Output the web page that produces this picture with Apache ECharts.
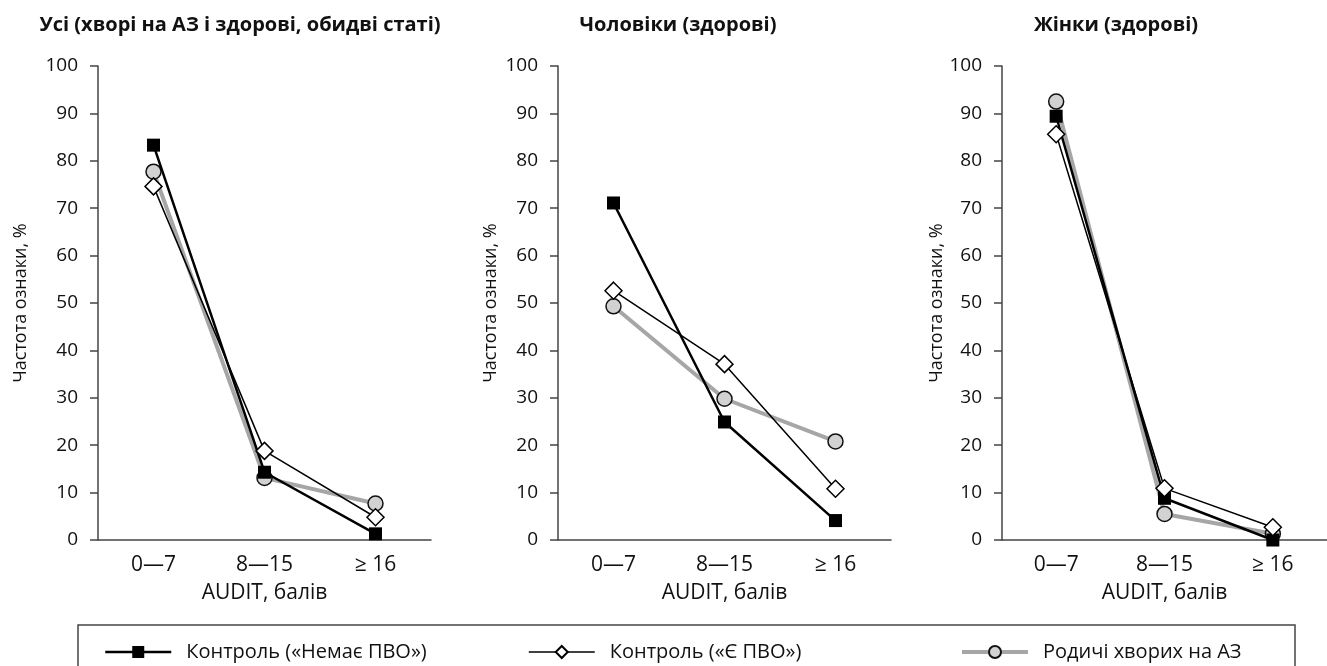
<!DOCTYPE html>
<html>
<head>
<meta charset="utf-8">
<script src="https://cdn.jsdelivr.net/npm/echarts@6/dist/echarts.min.js"></script>
<style>
  html, body { margin: 0; padding: 0; background: #fff; }
  #chart { width: 1327px; height: 666px; }
</style>
</head>
<body>
<div id="chart"></div>
<script>
const categories = ['0—7', '8—15', '≥ 16'];
const panelTitles = ['Усі (хворі на АЗ і здорові, обидві статі)', 'Чоловіки (здорові)', 'Жінки (здорові)'];
const seriesNames = ['Контроль («Немає ПВО»)', 'Контроль («Є ПВО»)', 'Родичі хворих на АЗ'];

// values per panel: [all, men, women]
const noPvo = [[83.3, 14.3, 1.3], [71.1, 24.9, 4.1], [89.4, 8.8, 0]];
const yesPvo = [[74.6, 18.8, 4.8], [52.6, 37.1, 10.8], [85.6, 10.9, 2.7]];
const relatives = [[77.7, 13.1, 7.7], [49.3, 29.8, 20.8], [92.5, 5.5, 1.3]];

const gridLefts = [98, 558, 1002];
const yNameGaps = [68, 58, 54];
const titleCenters = [235, 673, 1111];

const font = 'Open Sans';
const axisColor = '#444';

const grids = [], xAxes = [], yAxes = [], series = [], titles = [];

gridLefts.forEach((left, i) => {
  grids.push({ left: left, top: 66, width: 333, height: 474 });
  titles.push({
    text: panelTitles[i],
    left: titleCenters[i], top: 10, textAlign: 'center',
    textStyle: { fontFamily: font, fontSize: 20, fontWeight: 'bold', color: '#111' }
  });
  xAxes.push({
    type: 'category', gridIndex: i, data: categories, boundaryGap: true,
    name: 'AUDIT, балів', nameLocation: 'middle', nameGap: 43,
    nameTextStyle: { fontFamily: font, fontSize: 21, color: '#111' },
    axisLine: { lineStyle: { color: axisColor, width: 1.5 } },
    axisTick: { length: 8, lineStyle: { color: axisColor, width: 1.5 } },
    axisLabel: { fontFamily: font, fontSize: 21, color: '#111', margin: 15 }
  });
  yAxes.push({
    type: 'value', gridIndex: i, min: 0, max: 100, interval: 10,
    name: 'Частота ознаки, %', nameLocation: 'middle', nameGap: yNameGaps[i],
    nameTextStyle: { fontFamily: font, fontSize: 18, color: '#111' },
    axisLine: { show: true, lineStyle: { color: axisColor, width: 1.5 } },
    axisTick: { show: true, length: 8, lineStyle: { color: axisColor, width: 1.5 } },
    axisLabel: { fontFamily: font, fontSize: 19, color: '#111', margin: 20 },
    splitLine: { show: false }
  });
  series.push({
    name: seriesNames[2], type: 'line', xAxisIndex: i, yAxisIndex: i,
    data: relatives[i], symbol: 'circle', symbolSize: 15,
    lineStyle: { color: '#a6a6a6', width: 4 },
    itemStyle: { color: '#d2d2d2', borderColor: '#111', borderWidth: 1.5 },
    z: 2
  });
  series.push({
    name: seriesNames[0], type: 'line', xAxisIndex: i, yAxisIndex: i,
    data: noPvo[i], symbol: 'rect', symbolSize: 13,
    lineStyle: { color: '#000', width: 2.5 },
    itemStyle: { color: '#000' },
    z: 3
  });
  series.push({
    name: seriesNames[1], type: 'line', xAxisIndex: i, yAxisIndex: i,
    data: yesPvo[i], symbol: 'diamond', symbolSize: [17, 17],
    lineStyle: { color: '#000', width: 1.5 },
    itemStyle: { color: '#fff', borderColor: '#000', borderWidth: 1.5 },
    z: 4
  });
});

const legendLefts = [99, 523, 955];
const legendLineWidths = [2.5, 1.5, 4];
const legends = seriesNames.map((name, k) => ({
  data: [name], left: legendLefts[k], top: 637, itemWidth: 66, itemHeight: 15,
  lineStyle: { width: legendLineWidths[k] },
  textStyle: { fontFamily: font, fontSize: 20, color: '#111', padding: [0, 0, 0, 10] }
}));

const chart = echarts.init(document.getElementById('chart'));
chart.setOption({
  animation: false,
  backgroundColor: '#fff',
  title: titles,
  grid: grids,
  xAxis: xAxes,
  yAxis: yAxes,
  legend: legends,
  series: series,
  graphic: [{
    type: 'rect', silent: true,
    shape: { x: 78, y: 625, width: 1217, height: 60 },
    style: { fill: 'none', stroke: '#444', lineWidth: 1.5 }
  }]
});
</script>
</body>
</html>
